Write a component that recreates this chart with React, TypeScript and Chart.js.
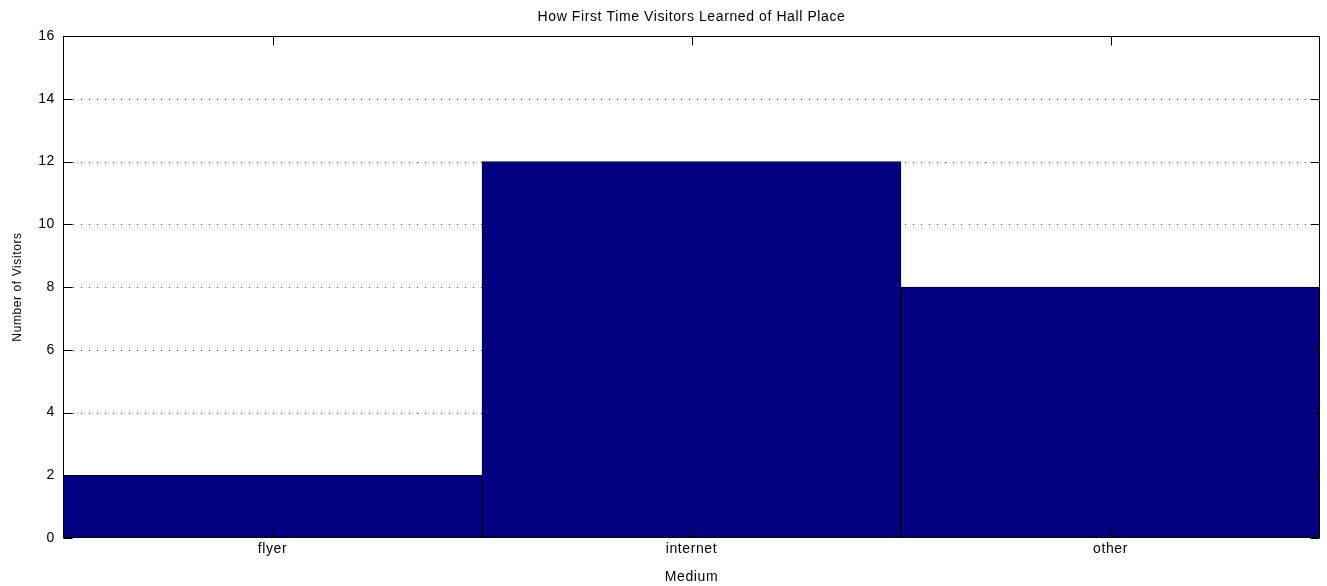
import React, { useEffect, useRef } from "react";
import { Chart, registerables } from "chart.js";

Chart.register(...registerables);

const categories = ["flyer", "internet", "other"];
const visitors = [2, 12, 8];
const yTicks = [0, 2, 4, 6, 8, 10, 12, 14, 16];
const titleText = "How First Time Visitors Learned of Hall Place";
const xTitle = "Medium";
const yTitle = "Number of Visitors";

const FONT = "'Liberation Sans', Arial, sans-serif";

const framePlugin = {
  id: "matlabFrame",
  beforeDraw(chart: any) {
    try {
      chart.ctx.letterSpacing = "0.6px";
    } catch (e) {}
  },
  beforeDatasetsDraw(chart: any) {
    const { ctx, chartArea } = chart;
    const y = chart.scales.y;
    ctx.save();
    ctx.strokeStyle = "#444";
    ctx.lineWidth = 1;
    ctx.setLineDash([1, 7]);
    for (const v of yTicks) {
      if (v === yTicks[0] || v === yTicks[yTicks.length - 1]) continue;
      const py = Math.round(y.getPixelForValue(v)) + 0.5;
      ctx.beginPath();
      ctx.moveTo(chartArea.left + 10, py);
      ctx.lineTo(chartArea.right - 10, py);
      ctx.stroke();
    }
    ctx.restore();
  },
  afterDatasetsDraw(chart: any) {
    const { ctx, chartArea } = chart;
    const x = chart.scales.x;
    const y = chart.scales.y;
    const L = Math.round(chartArea.left) + 0.5;
    const R = Math.round(chartArea.right) - 0.5;
    const T = Math.round(chartArea.top) + 0.5;
    const B = Math.round(chartArea.bottom) - 0.5;
    ctx.save();
    ctx.strokeStyle = "#000";
    ctx.lineWidth = 1;
    ctx.setLineDash([]);
    ctx.strokeRect(L, T, R - L, B - T);
    const tl = 9;
    ctx.beginPath();
    for (const v of yTicks) {
      const py = Math.round(y.getPixelForValue(v)) + 0.5;
      ctx.moveTo(L, py);
      ctx.lineTo(L + tl, py);
      ctx.moveTo(R, py);
      ctx.lineTo(R - tl, py);
    }
    categories.forEach((_, i) => {
      const px = Math.round(x.getPixelForValue(i)) + 0.5;
      ctx.moveTo(px, T);
      ctx.lineTo(px, T + tl);
      ctx.moveTo(px, B);
      ctx.lineTo(px, B - tl);
    });
    ctx.stroke();
    ctx.restore();
  },
};

export default function App() {
  const ref = useRef<HTMLCanvasElement | null>(null);
  useEffect(() => {
    if (!ref.current) return;
    const chart = new Chart(ref.current, {
      type: "bar",
      data: {
        labels: categories,
        datasets: [
          {
            data: visitors,
            backgroundColor: "#000080",
            borderColor: "#000000",
            borderWidth: 1,
            barPercentage: 1,
            categoryPercentage: 1,
          },
        ],
      },
      options: {
        animation: false,
        responsive: false,
        maintainAspectRatio: false,
        layout: { padding: { top: 0, right: 7, bottom: 0, left: 0 } },
        plugins: {
          legend: { display: false },
          tooltip: { enabled: false },
          title: {
            display: true,
            fullSize: false,
            text: titleText,
            color: "#000",
            font: { family: FONT, size: 14, weight: "normal", lineHeight: 1.2 },
            padding: { top: 8.6, bottom: 10.6 },
          },
        },
        scales: {
          x: {
            grid: { display: false, drawTicks: false },
            border: { display: false },
            ticks: {
              color: "#000",
              font: { family: FONT, size: 14 },
              padding: 2.6,
              maxRotation: 0,
            },
            title: {
              display: true,
              text: xTitle,
              color: "#000",
              font: { family: FONT, size: 14 },
              padding: { top: 4, bottom: 0.6 },
            },
            afterFit(s: any) {
              s.height = 48;
            },
          },
          y: {
            min: 0,
            max: 16,
            afterBuildTicks(s: any) {
              s.ticks = yTicks.map((v) => ({ value: v }));
            },
            grid: { display: false, drawTicks: false },
            border: { display: false },
            ticks: {
              color: "#000",
              font: { family: FONT, size: 14 },
              padding: 8,
            },
            title: {
              display: true,
              text: yTitle,
              color: "#000",
              font: { family: FONT, size: 12 },
              padding: { top: 10.8, bottom: 0 },
            },
            afterFit(s: any) {
              s.width = 63;
            },
          },
        },
      },
      plugins: [framePlugin],
    });
    return () => chart.destroy();
  }, []);
  return (
    <div style={{ position: "fixed", left: 0, top: 0, width: 1327, height: 586, background: "#fff" }}>
      <canvas ref={ref} width={1327} height={586} style={{ display: "block" }} />
    </div>
  );
}
